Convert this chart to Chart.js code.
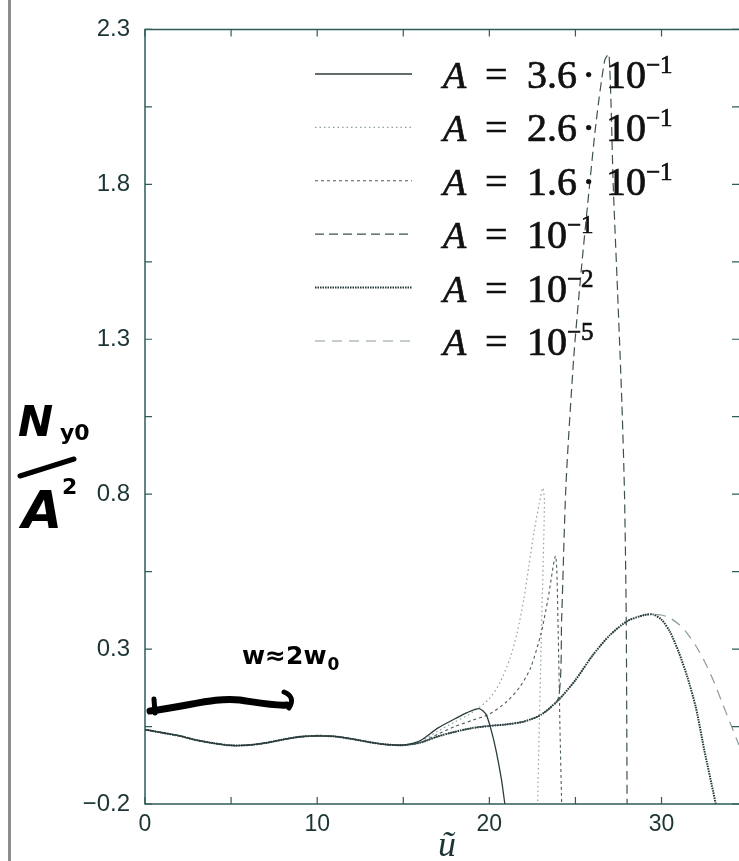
<!DOCTYPE html>
<html>
<head>
<meta charset="utf-8">
<script src="https://cdn.jsdelivr.net/npm/chart.js@4.4.1/dist/chart.umd.min.js"></script>
<style>
  html, body { margin: 0; padding: 0; background: #fff; overflow: hidden; }
  #wrap { position: relative; width: 739px; height: 861px; }
  #edge { position: absolute; left: 8px; top: 0; width: 3px; height: 861px; background: #8c8c8c; }
</style>
</head>
<body>
<div id="wrap">
  <canvas id="nyChart" width="739" height="861"></canvas>
  <div id="edge"></div>
</div>
<script>
// shared start of every curve (u from 0 to 15)
const baseU = [0, 1, 2, 3, 4, 5, 6, 7, 8, 9, 10, 11, 12, 13, 14, 15];
const baseN = [0.04, 0.03, 0.02, 0.006, -0.004, -0.011, -0.01, -0.003, 0.008, 0.017, 0.02, 0.018, 0.01, 0.0, -0.008, -0.01];

// A = 3.6e-1
const a36U = [16, 17, 18, 18.7, 19.4, 19.8, 20.1, 20.4, 20.7, 20.9];
const a36N = [0.005, 0.045, 0.075, 0.095, 0.108, 0.09, 0.04, -0.03, -0.12, -0.2];
// A = 2.6e-1
const a26U = [16, 17, 18, 19, 20, 20.6, 21.2, 21.6, 22, 22.3, 22.6, 22.9, 23.1, 23.2, 23.0, 22.8];
const a26N = [0.003, 0.035, 0.065, 0.095, 0.14, 0.19, 0.27, 0.35, 0.46, 0.57, 0.68, 0.77, 0.82, 0.78, 0.3, -0.2];
// A = 1.6e-1
const a16U = [16, 17, 18, 19, 20, 21, 21.8, 22.4, 23, 23.4, 23.85, 24.0, 24.1, 24.2];
const a16N = [0.0, 0.025, 0.05, 0.07, 0.09, 0.13, 0.18, 0.24, 0.35, 0.46, 0.6, 0.35, 0.05, -0.2];
// A = 1e-1
const a1U = [16, 17, 18, 19, 20, 21, 22, 23, 24, 24.2, 24.45, 24.9, 25.3, 25.7, 26.2, 26.7, 26.95, 27.2, 27.45, 27.7, 27.85, 27.95, 28.0];
const a1N = [-0.002, 0.018, 0.033, 0.045, 0.052, 0.057, 0.066, 0.088, 0.14, 0.4, 0.83, 1.24, 1.5, 1.73, 2.0, 2.2, 2.22, 1.79, 1.45, 1.09, 0.8, 0.4, -0.2];
// A = 1e-2
const a2U = [16, 17, 18, 19, 20, 21, 22, 23, 24, 25, 26, 27, 28, 29, 29.5, 30, 30.5, 31, 31.5, 32, 32.5, 33, 33.15];
const a2N = [-0.002, 0.018, 0.033, 0.045, 0.052, 0.057, 0.066, 0.088, 0.135, 0.2, 0.28, 0.345, 0.39, 0.41, 0.412, 0.395, 0.355, 0.29, 0.21, 0.11, -0.03, -0.16, -0.2];
// A = 1e-5
const a5U = [16, 17, 18, 19, 20, 21, 22, 23, 24, 25, 26, 27, 28, 29, 30, 30.5, 31, 31.5, 32, 32.5, 33, 33.5, 34, 34.5];
const a5N = [-0.002, 0.018, 0.033, 0.045, 0.052, 0.057, 0.066, 0.088, 0.135, 0.2, 0.28, 0.345, 0.39, 0.41, 0.41, 0.4, 0.38, 0.35, 0.31, 0.26, 0.2, 0.13, 0.06, -0.01];

const uLabelTicks = [0, 10, 20, 30];
const nLabelTicks = [-0.2, 0.3, 0.8, 1.3, 1.8, 2.3];
const uMinorTicks = [0, 5, 10, 15, 20, 25, 30];
const nMinorTicks = [-0.2, 0.05, 0.3, 0.55, 0.8, 1.05, 1.3, 1.55, 1.8, 2.05, 2.3];

const legendCoef = ['3.6', '2.6', '1.6', null, null, null];
const legendExp = ['−1', '−1', '−1', '−1', '−2', '−5'];

const toPoints = (us, ns) => baseU.concat(us).map((u, i) => ({x: u, y: baseN.concat(ns)[i]}));

const datasets = [
    {data: toPoints(a36U, a36N), borderColor: '#2a3d3d', borderWidth: 1.3, borderDash: []},
    {data: toPoints(a26U, a26N), borderColor: 'rgba(70,95,95,0.6)', borderWidth: 1.2, borderDash: [1.5, 3]},
    {data: toPoints(a16U, a16N), borderColor: '#4a5c5c', borderWidth: 1.1, borderDash: [3, 3]},
    {data: toPoints(a1U, a1N), borderColor: '#3f5050', borderWidth: 1.2, borderDash: [9, 5]},
    {data: toPoints(a2U, a2N), borderColor: '#223838', borderWidth: 2, borderDash: [1.5, 1]},
    {data: toPoints(a5U, a5N), borderColor: '#8a9a9a', borderWidth: 1.2, borderDash: [10, 7]}
];
datasets.forEach(d => { d.tension = 0.25; d.pointRadius = 0; d.fill = false; });

const framePlugin = {
    id: 'frame',
    afterDatasetsDraw(chart) {
        const {ctx, chartArea: a, scales: {x, y}} = chart;
        ctx.save();
        ctx.setLineDash([]);
        ctx.strokeStyle = '#2e5c5a';
        ctx.lineWidth = 1.5;
        ctx.beginPath();
        ctx.moveTo(a.right, a.top); ctx.lineTo(a.left, a.top);
        ctx.lineTo(a.left, a.bottom); ctx.lineTo(a.right, a.bottom);
        ctx.stroke();
        ctx.lineWidth = 1.2;
        ctx.beginPath();
        uMinorTicks.forEach(v => {
            const px = x.getPixelForValue(v);
            ctx.moveTo(px, a.bottom); ctx.lineTo(px, a.bottom - 7);
            ctx.moveTo(px, a.top); ctx.lineTo(px, a.top + 7);
        });
        nMinorTicks.forEach(v => {
            const py = y.getPixelForValue(v);
            ctx.moveTo(a.left, py); ctx.lineTo(a.left + 7, py);
            ctx.moveTo(a.right, py); ctx.lineTo(a.right - 7, py);
        });
        ctx.stroke();
        ctx.restore();
    },
    afterDraw(chart) {
        const ctx = chart.ctx;
        ctx.save();
        // legend
        chart.data.datasets.forEach((ds, i) => {
            const b = 88 + i * 53.4;
            ctx.setLineDash(ds.borderDash);
            ctx.strokeStyle = ds.borderColor;
            ctx.lineWidth = ds.borderWidth;
            ctx.beginPath(); ctx.moveTo(315, b - 14); ctx.lineTo(412, b - 14); ctx.stroke();
            ctx.setLineDash([]);
            ctx.fillStyle = '#111';
            ctx.strokeStyle = '#111';
            ctx.lineWidth = 0.7;
            ctx.textBaseline = 'alphabetic';
            ctx.textAlign = 'left';
            const put = (t, x, y) => { ctx.fillText(t, x, y); ctx.strokeText(t, x, y); };
            ctx.font = 'italic 38px "Liberation Serif"';
            put('A', 443, b);
            ctx.font = '40px "Liberation Serif"';
            put('=', 485, b);
            let tx = 527;
            if (legendCoef[i]) {
                put(legendCoef[i], 527, b);
                put('·', 582, b);
                tx = 606;
            }
            put('10', tx, b);
            ctx.font = '25px "Liberation Serif"';
            put(legendExp[i], tx + 40, b - 15);
        });
        // x axis title
        ctx.fillStyle = '#1d3434';
        ctx.font = 'italic 36px "Liberation Serif"';
        ctx.textAlign = 'center';
        ctx.fillText('ũ', 447, 856);
        // handwritten notes
        ctx.fillStyle = '#000';
        ctx.textAlign = 'left';
        ctx.font = 'bold italic 42px "DejaVu Sans"';
        ctx.fillText('N', 18, 436);
        ctx.font = 'bold 22px "DejaVu Sans"';
        ctx.fillText('y0', 60, 440);
        ctx.font = 'bold italic 52px "DejaVu Sans"';
        ctx.fillText('A', 22, 528);
        ctx.font = 'bold 22px "DejaVu Sans"';
        ctx.fillText('2', 62, 494);
        ctx.font = 'bold 25px "DejaVu Sans"';
        ctx.fillText('w≈2w', 242, 664);
        const ww = ctx.measureText('w≈2w').width;
        ctx.font = 'bold 17px "DejaVu Sans"';
        ctx.fillText('0', 242 + ww + 1, 670);
        ctx.strokeStyle = '#000';
        ctx.lineCap = 'round';
        ctx.lineJoin = 'round';
        ctx.lineWidth = 5;
        ctx.beginPath(); ctx.moveTo(20, 476); ctx.lineTo(74, 459); ctx.stroke();
        ctx.lineWidth = 7;
        ctx.beginPath();
        ctx.moveTo(150, 711);
        ctx.bezierCurveTo(190, 706, 215, 697, 240, 700);
        ctx.bezierCurveTo(260, 703, 275, 706, 287, 705);
        ctx.stroke();
        ctx.lineWidth = 5;
        ctx.beginPath();
        ctx.moveTo(284, 692); ctx.quadraticCurveTo(296, 697, 289, 708);
        ctx.moveTo(154, 699); ctx.lineTo(155, 713);
        ctx.stroke();
        ctx.restore();
    }
};

window.addEventListener('load', () => {
    const ctx = document.getElementById('nyChart');
    new Chart(ctx, {
        type: 'line',
        data: {datasets: datasets},
        options: {
            responsive: false,
            animation: false,
            layout: {padding: {top: 20, right: 0, left: 0, bottom: 0}},
            plugins: {legend: {display: false}, tooltip: {enabled: false}},
            scales: {
                x: {
                    type: 'linear', min: 0, max: 34.5,
                    afterBuildTicks: s => { s.ticks = uLabelTicks.map(v => ({value: v})); },
                    afterFit: s => { s.height = 57; },
                    grid: {display: false, drawTicks: false},
                    border: {display: false},
                    ticks: {padding: 7, maxRotation: 0, autoSkip: false, color: '#1d3434',
                        font: {family: 'Liberation Sans', size: 23}}
                },
                y: {
                    type: 'linear', min: -0.2, max: 2.3,
                    afterBuildTicks: s => { s.ticks = nLabelTicks.map(v => ({value: v})); },
                    afterFit: s => { s.width = 145; },
                    grid: {display: false, drawTicks: false},
                    border: {display: false},
                    ticks: {padding: 15, color: '#1d3434', font: {family: 'Liberation Sans', size: 24},
                        callback: v => (v < 0 ? '−' : '') + Math.abs(v).toFixed(1)}
                }
            }
        },
        plugins: [framePlugin]
    });
});
</script>
</body>
</html>
